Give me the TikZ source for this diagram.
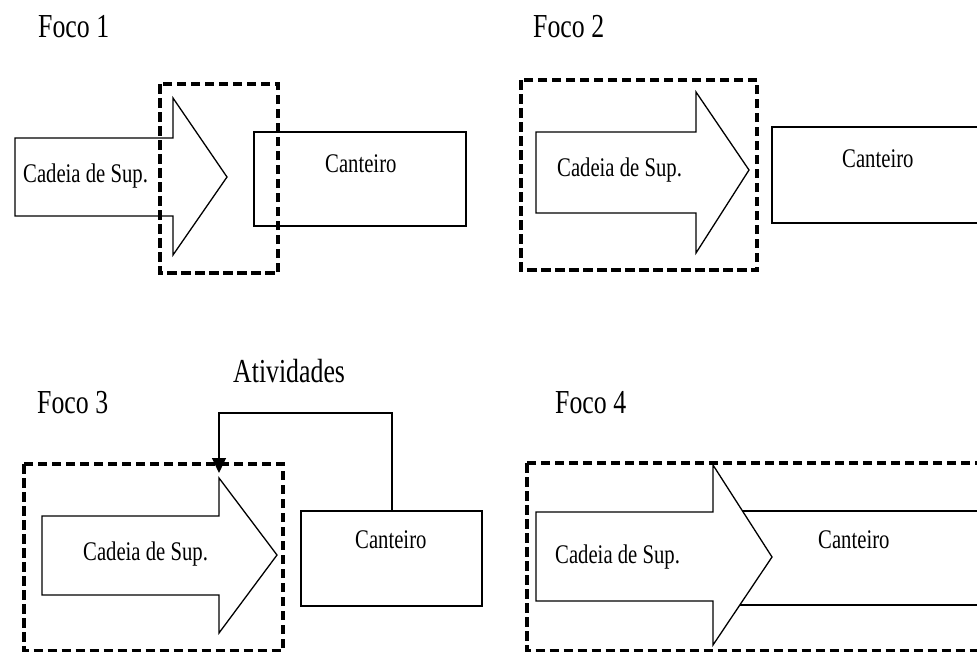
\documentclass[tikz,border=0pt]{standalone}
\usepackage{fontspec}
\setmainfont{Liberation Serif}
\usetikzlibrary{arrows.meta}
\newcommand{\vs}[1]{\scalebox{1}[1.3]{#1}}
\tikzset{
  solidline/.style={draw=black, line width=1.3pt, line join=miter},
  arrowshape/.style={solidline, fill=white},
  focusbox/.style={draw=black, line width=3.5pt, dash pattern=on 9.5pt off 4.5pt},
  boxtext/.style={anchor=base west, inner sep=0pt, font=\fontsize{20.7}{24}\selectfont},
  titletext/.style={anchor=base west, inner sep=0pt, font=\fontsize{25.8}{30}\selectfont},
}
\begin{document}
\begin{tikzpicture}[x=1pt,y=-1pt]
\useasboundingbox (0,0) rectangle (977,651);
\clip (0,0) rectangle (977,651);
\fill[white] (0,0) rectangle (977,651);

% ---------- Foco 1 ----------
\node[titletext] (f1) at (38,37) {\vs{Foco 1}};
\draw[arrowshape] (15,138) -- (173,138) -- (173,98) -- (227,177) -- (173,255) -- (173,216) -- (15,216) -- cycle;
\draw[solidline] (254,132) rectangle (466,226);
\node[boxtext] (c1) at (23,182) {\vs{Cadeia de Sup.}};
\node[boxtext] (k1) at (325,172) {\vs{Canteiro}};
\draw[focusbox] (160,84) rectangle (278,273);

% ---------- Foco 2 ----------
\node[titletext] (f2) at (533,37) {\vs{Foco 2}};
\draw[arrowshape] (536,132) -- (696,132) -- (696,92) -- (749,170) -- (696,253) -- (696,213) -- (536,213) -- cycle;
\draw[solidline] (772,127) rectangle (995,223);
\node[boxtext] (c2) at (557,176) {\vs{Cadeia de Sup.}};
\node[boxtext] (k2) at (842,167) {\vs{Canteiro}};
\draw[focusbox] (521,80) rectangle (757,270);

% ---------- Foco 3 ----------
\node[titletext] (f3) at (37,413) {\vs{Foco 3}};
\node[titletext] (at) at (233,382) {\vs{Atividades}};
\draw[arrowshape] (42,516) -- (219,516) -- (219,478) -- (277,555) -- (219,633) -- (219,595) -- (42,595) -- cycle;
\draw[solidline] (301,511) rectangle (482,606);
\coordinate (k3top) at (392,511);
\coordinate (a3top) at (219,473);
\node[boxtext] (c3) at (83,560) {\vs{Cadeia de Sup.}};
\node[boxtext] (k3) at (355,548) {\vs{Canteiro}};
\draw[focusbox] (24,464) rectangle (283,650.5);
\draw[solidline, -{Triangle[length=15pt,width=14pt]}] (k3top) -- (392,413) -- (219,413) -- (a3top);

% ---------- Foco 4 ----------
\node[titletext] (f4) at (555,413) {\vs{Foco 4}};
\draw[solidline] (720,511) rectangle (995,605);
\draw[arrowshape] (536,512) -- (713,512) -- (713,465) -- (772,557) -- (713,645) -- (713,601) -- (536,601) -- cycle;
\node[boxtext] (c4) at (555,563) {\vs{Cadeia de Sup.}};
\node[boxtext] (k4) at (818,548) {\vs{Canteiro}};
\draw[focusbox] (527,463) rectangle (995,650.5);
\end{tikzpicture}
\end{document}
